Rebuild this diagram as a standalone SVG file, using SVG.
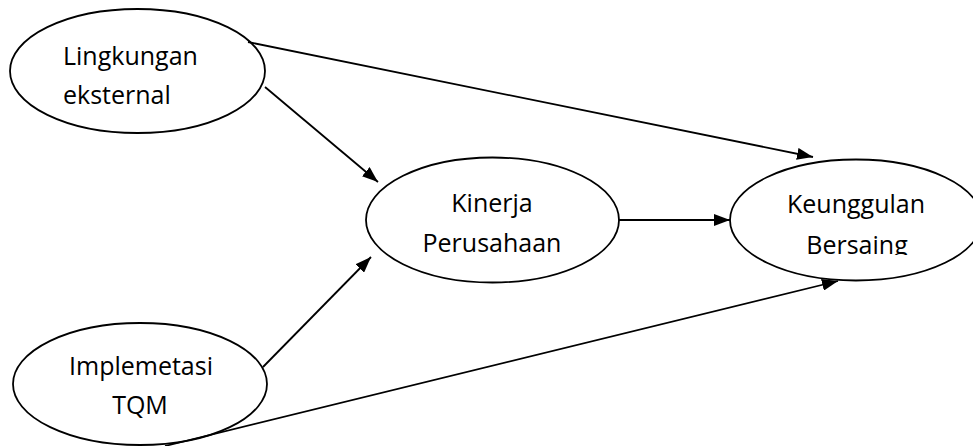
<svg xmlns="http://www.w3.org/2000/svg" width="973" height="446" viewBox="0 0 973 446">
  <defs>
    <marker id="arrow" viewBox="0 0 16 12" refX="16" refY="6" markerWidth="16" markerHeight="12" markerUnits="userSpaceOnUse" orient="auto">
      <path d="M0,0 L16,6 L0,12 Z" fill="#000"/>
    </marker>
    <clipPath id="clip-bersaing">
      <rect x="700" y="150" width="273" height="105"/>
    </clipPath>
  </defs>
  <style>
    .node ellipse { fill: #fff; stroke: #000; stroke-width: 1.8; }
    .label { font-family: "Open Sans", "Noto Sans", sans-serif; font-size: 25px; fill: #000; }
    .mid { text-anchor: middle; }
    .edge { stroke: #000; stroke-width: 1.8; fill: none; marker-end: url(#arrow); }
  </style>
  <rect width="973" height="446" fill="#fff"/>

  <g id="lingkungan-eksternal" class="node">
    <ellipse cx="137.5" cy="71" rx="127.5" ry="62"/>
    <text class="label" x="63" y="65">Lingkungan</text>
    <text class="label" x="63" y="104">eksternal</text>
  </g>

  <g id="kinerja-perusahaan" class="node">
    <ellipse cx="492.5" cy="220" rx="126.5" ry="62.5"/>
    <text class="label mid" x="492" y="212">Kinerja</text>
    <text class="label mid" x="492" y="252">Perusahaan</text>
  </g>

  <g id="keunggulan-bersaing" class="node">
    <ellipse cx="856" cy="220" rx="126" ry="60.5"/>
    <text class="label mid" x="856" y="213">Keunggulan</text>
    <text class="label mid" x="857" y="254" clip-path="url(#clip-bersaing)">Bersaing</text>
  </g>

  <g id="implemetasi-tqm" class="node">
    <ellipse cx="140" cy="384" rx="127" ry="61"/>
    <text class="label mid" x="141" y="375">Implemetasi</text>
    <text class="label mid" x="140" y="414">TQM</text>
  </g>

  <!-- connectors drawn last so the lower path stays visible where it grazes the TQM ellipse -->
  <g id="connectors">
    <line class="edge" x1="248" y1="42" x2="813" y2="157"/>
    <line class="edge" x1="265" y1="87" x2="378" y2="182"/>
    <line class="edge" x1="263" y1="367" x2="371" y2="257"/>
    <line class="edge" x1="619" y1="220" x2="730" y2="220"/>
    <line class="edge" x1="165" y1="446" x2="838" y2="281"/>
  </g>
</svg>
